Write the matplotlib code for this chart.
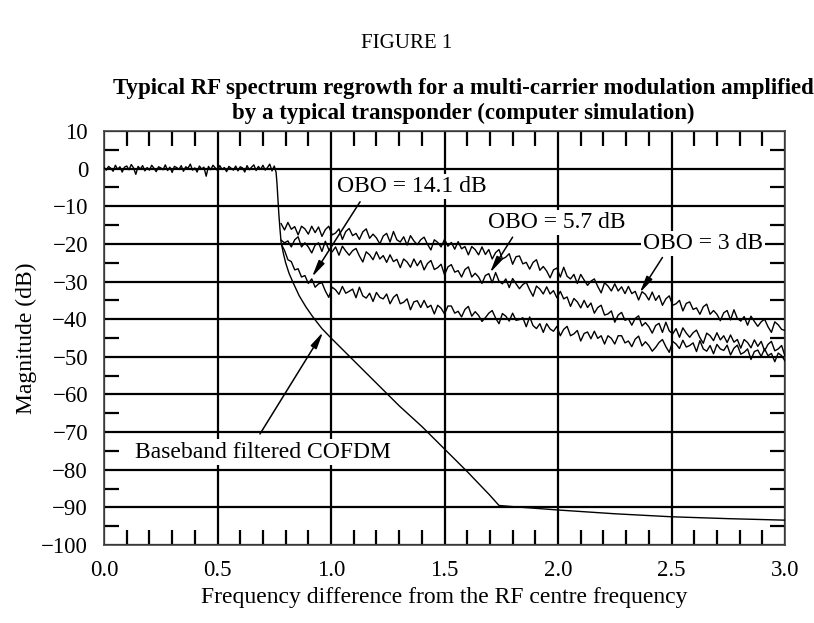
import numpy as np
import matplotlib.pyplot as plt
from matplotlib.ticker import MultipleLocator

# baseband filtered COFDM: flat in-band part (0 .. 0.75, step 0.01)
flat_db = [
    0.3, -0.4, 0.6, 0.1, -0.7, 0.9, -0.2, 0.5, -0.9, 0.4,
    0.7, -0.3, 1.1, 0.2, -1.5, 0.6, -0.1, 0.8, -0.6, 0.3,
    -0.4, 0.9, 0.1, -0.8, 0.5, 0.2, -0.3, 1.0, -0.5, 0.4,
    -1.0, 0.6, 0.3, -0.2, 0.8, -0.7, 0.5, 0.1, 1.2, -0.4,
    0.2, -0.9, 0.7, -0.1, 0.4, -2.0, 0.6, -0.3, 0.9, 0.2,
    -0.5, 0.8, -0.2, 0.3, -0.8, 0.6, 0.1, -0.4, 0.7, -0.6,
    0.5, 0.2, -0.9, 0.8, -0.3, 0.4, 1.0, -0.5, 0.6, -0.2,
    0.9, -0.4, 0.3, 1.2, -0.6, 0.7,
]
# roll-off and floor of the filtered spectrum
rolloff_f = [0.758, 0.762, 0.766, 0.77, 0.775, 0.78, 0.79, 0.80, 0.815, 0.833,
             0.86, 0.89, 0.92, 0.96, 1.0, 1.1, 1.2, 1.3, 1.4, 1.5,
             1.6, 1.7, 1.74, 1.8, 2.0, 2.25, 2.5, 2.75, 3.0]
rolloff_db = [-1, -4, -8, -12, -16, -19.5, -22.5, -25, -27.8, -30.3,
              -33.8, -36.8, -39.4, -42.5, -45, -51, -57, -63, -68.5, -74.5,
              -80.5, -86.8, -89.5, -89.8, -90.7, -91.7, -92.5, -93, -93.4]

# amplified spectra, sampled from 0.78 to 3.0 (step 0.015)
obo_3 = [
    -14.6, -16.3, -14.3, -16.1, -15.4, -17.6, -15.3, -16.0, -17.4, -15.3,
    -17.0, -15.5, -18.0, -16.2, -15.3, -17.6, -17.1, -16.0, -18.8, -16.7,
    -15.9, -17.8, -17.2, -18.8, -16.8, -16.0, -18.5, -17.4, -18.4, -20.0,
    -17.9, -17.2, -19.5, -16.7, -18.9, -19.5, -18.1, -20.3, -17.8, -19.2,
    -20.2, -18.9, -18.2, -20.1, -21.6, -18.9, -19.6, -20.8, -18.8, -20.6,
    -19.6, -21.4, -19.4, -21.3, -20.7, -22.9, -20.7, -21.5, -22.9, -20.8,
    -22.8, -21.5, -24.0, -22.3, -21.5, -24.0, -23.5, -22.6, -25.4, -23.4,
    -23.2, -25.3, -24.9, -26.7, -24.9, -24.2, -27.0, -26.0, -27.2, -29.0,
    -26.9, -26.4, -28.8, -26.2, -28.6, -29.3, -28.1, -30.5, -28.1, -29.6,
    -31.0, -29.9, -29.3, -31.3, -33.0, -30.3, -31.2, -32.5, -30.6, -32.5,
    -31.4, -33.2, -31.3, -33.2, -32.6, -34.9, -32.7, -33.4, -34.9, -32.8,
    -35.0, -33.7, -36.3, -34.6, -33.8, -36.3, -35.9, -35.0, -37.8, -35.8,
    -35.4, -37.4, -37.0, -38.7, -36.7, -36.0, -38.7, -37.7, -38.7, -40.4,
    -38.3, -37.7, -40.2, -37.5, -39.8, -40.5, -39.3, -41.6, -39.2, -40.6,
    -41.9, -40.7, -40.0, -42.0, -43.5, -40.7, -41.5, -42.7, -43.0,
]
obo_5_7 = [
    -19.0, -19.7, -19.2, -20.8, -18.9, -18.1, -20.8, -19.7, -20.8, -22.4,
    -20.3, -19.7, -22.0, -19.3, -21.5, -22.1, -20.8, -23.0, -20.6, -21.9,
    -23.0, -21.8, -21.2, -23.2, -24.8, -22.1, -22.9, -24.2, -22.1, -24.0,
    -23.1, -24.9, -22.9, -24.7, -24.1, -26.3, -24.0, -24.8, -26.2, -24.0,
    -25.8, -24.4, -26.9, -25.2, -24.4, -26.8, -26.3, -25.4, -28.2, -26.1,
    -25.5, -27.5, -27.1, -28.8, -26.8, -26.1, -28.8, -27.8, -28.8, -30.5,
    -28.4, -27.9, -30.3, -27.6, -29.9, -30.6, -29.3, -31.6, -29.2, -30.6,
    -31.9, -30.8, -30.2, -32.2, -33.9, -31.2, -32.0, -33.3, -31.4, -33.3,
    -32.4, -34.3, -32.6, -34.6, -34.1, -36.6, -34.5, -35.4, -37.0, -35.0,
    -36.9, -35.7, -38.4, -36.9, -36.3, -38.9, -38.6, -37.8, -40.8, -38.9,
    -38.2, -40.3, -39.9, -41.6, -39.8, -39.1, -41.8, -40.9, -42.0, -43.7,
    -41.7, -41.1, -43.5, -40.8, -43.1, -43.9, -42.5, -44.8, -42.3, -43.7,
    -44.8, -43.6, -42.9, -44.9, -46.4, -43.7, -44.4, -45.7, -43.6, -45.5,
    -44.4, -46.2, -44.2, -46.1, -45.4, -47.7, -45.4, -46.2, -47.6, -45.5,
    -47.2, -45.9, -48.4, -46.7, -45.9, -48.4, -47.9, -47.0, -49.8,
]
obo_14_1 = [
    -20.0, -21.7, -24.2, -24.7, -26.9, -26.6, -28.8, -28.4, -30.5, -29.3,
    -31.5, -30.6, -30.3, -32.5, -34.2, -31.5, -32.2, -33.4, -31.3, -33.1,
    -32.6, -32.0, -34.3, -31.5, -33.8, -34.4, -33.1, -35.3, -32.9, -34.2,
    -34.6, -33.3, -35.9, -34.2, -33.4, -35.9, -35.5, -34.6, -37.5, -35.4,
    -35.1, -36.9, -35.0, -36.9, -36.3, -38.6, -36.3, -37.1, -38.6, -36.5,
    -36.5, -38.4, -37.9, -39.4, -37.4, -36.6, -39.2, -38.0, -39.0, -40.6,
    -39.6, -38.4, -37.7, -39.7, -41.2, -38.5, -39.2, -40.5, -38.4, -40.3,
    -40.1, -39.6, -42.0, -39.4, -41.7, -42.5, -41.2, -43.5, -41.2, -42.6,
    -43.2, -41.9, -44.4, -42.7, -41.9, -44.4, -43.9, -43.0, -45.8, -43.8,
    -43.4, -45.2, -43.2, -45.1, -44.4, -46.6, -44.4, -45.1, -46.6, -44.4,
    -44.4, -46.3, -45.8, -47.3, -45.3, -44.5, -47.1, -46.0, -47.0, -48.5,
    -47.5, -46.2, -45.4, -47.3, -48.8, -45.9, -46.6, -47.8, -45.6, -47.4,
    -47.0, -46.3, -48.6, -45.7, -47.9, -48.5, -47.0, -49.2, -46.7, -47.9,
    -48.3, -46.9, -49.5, -47.7, -46.9, -49.3, -48.8, -47.9, -50.7, -48.6,
    -48.2, -49.9, -47.9, -49.7, -49.1, -51.3, -49.0, -49.7, -51.1,
]

plt.rcParams['font.family'] = ['Liberation Serif', 'DejaVu Serif']
plt.rcParams['axes.unicode_minus'] = True

fig = plt.figure(figsize=(8.14, 6.23), dpi=100)
ax = fig.add_axes([0.1278, 0.1252, 0.8366, 0.6645])

flat_f = np.arange(len(flat_db)) * 0.01
base_f = np.concatenate([flat_f, rolloff_f])
base_db = np.concatenate([flat_db, rolloff_db])
amp_f = np.linspace(0.78, 3.0, len(obo_3))

lw = 1.0
ax.plot(base_f, base_db, color='black', lw=lw, zorder=3)
ax.plot(amp_f, obo_3, color='black', lw=lw, zorder=3)
ax.plot(amp_f, obo_5_7, color='black', lw=lw, zorder=3)
ax.plot(amp_f, obo_14_1, color='black', lw=lw, zorder=3)

ax.set_xlim(0, 3.0)
ax.set_ylim(-100, 10)
ax.xaxis.set_major_locator(MultipleLocator(0.5))
ax.xaxis.set_minor_locator(MultipleLocator(0.1))
ax.yaxis.set_major_locator(MultipleLocator(10))
ax.yaxis.set_minor_locator(MultipleLocator(5))
ax.xaxis.set_major_formatter(lambda v, p: f"{v:.1f}")
ax.grid(which='major', color='black', lw=1.6, zorder=1)
ax.tick_params(which='major', length=0, labelsize=16.5, pad=11)
ax.tick_params(axis='y', which='major', pad=11.5)
ax.tick_params(which='minor', direction='in', length=10.5, width=1.6,
               top=True, right=True)
for s in ax.spines.values():
    s.set_linewidth(1.2)
    s.set_color('#444444')

box = dict(facecolor='white', edgecolor='none', pad=1.5)
fs = 17
ax.text(1.355, -4.8, "OBO = 14.1 dB", fontsize=fs, ha='center', va='center', bbox=box, zorder=4)
ax.text(1.995, -14.3, "OBO = 5.7 dB", fontsize=fs, ha='center', va='center', bbox=box, zorder=4)
ax.text(2.64, -19.8, "OBO = 3 dB", fontsize=fs, ha='center', va='center', bbox=box, zorder=4)
ax.text(0.70, -75.3, "Baseband filtered COFDM", fontsize=fs, ha='center', va='center', bbox=box, zorder=4)

arrow = dict(arrowstyle='-|>,head_length=1.0,head_width=0.2', color='black', lw=1.1,
             shrinkA=0, shrinkB=0)
ax.annotate("", xy=(0.916, -28.8), xytext=(1.128, -8.8), arrowprops=arrow, zorder=5)
ax.annotate("", xy=(1.70, -27.7), xytext=(1.80, -18.2), arrowprops=arrow, zorder=5)
ax.annotate("", xy=(2.36, -33.0), xytext=(2.46, -23.6), arrowprops=arrow, zorder=5)
ax.annotate("", xy=(0.965, -43.4), xytext=(0.687, -70.5), arrowprops=arrow, zorder=5)

ax.set_ylabel("Magnitude (dB)", fontsize=fs, labelpad=3)
ax.set_xlabel("Frequency difference from the RF centre frequency", fontsize=fs, labelpad=4)

fig.text(0.5, 1 - 43 / 623, "FIGURE 1", fontsize=15, ha='center', va='center')
fig.text(463 / 814, 1 - 101 / 623,
         "Typical RF spectrum regrowth for a multi-carrier modulation amplified\n"
         "by a typical transponder (computer simulation)",
         fontsize=16.5, fontweight='bold', ha='center', va='center', linespacing=1.2)

fig.savefig("out.png", dpi=100)
